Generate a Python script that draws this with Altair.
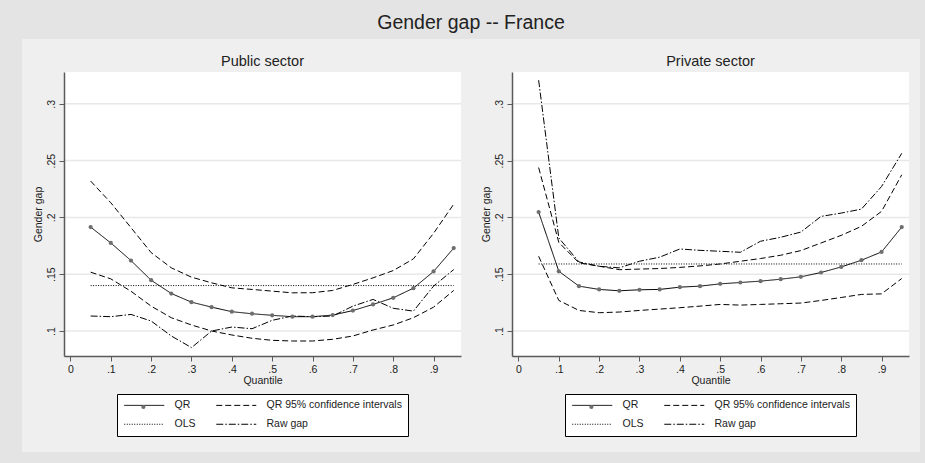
import altair as alt
import pandas as pd

# ---------------- data ----------------
quantiles = [0.05, 0.10, 0.15, 0.20, 0.25, 0.30, 0.35, 0.40, 0.45, 0.50,
             0.55, 0.60, 0.65, 0.70, 0.75, 0.80, 0.85, 0.90, 0.95]

pub_qr = [0.1915, 0.1775, 0.1620, 0.1447, 0.1330, 0.1254, 0.1210, 0.1170, 0.1152, 0.1138,
          0.1126, 0.1126, 0.1140, 0.1180, 0.1234, 0.1292, 0.1377, 0.1524, 0.1730]
pub_ci_hi = [0.2320, 0.2129, 0.1910, 0.1690, 0.1556, 0.1474, 0.1424, 0.1380, 0.1366, 0.1351,
             0.1336, 0.1337, 0.1357, 0.1410, 0.1468, 0.1532, 0.1635, 0.1860, 0.2117]
pub_ci_lo = [0.1518, 0.1459, 0.1350, 0.1219, 0.1117, 0.1053, 0.1000, 0.0965, 0.0936, 0.0918,
             0.0912, 0.0912, 0.0927, 0.0956, 0.1009, 0.1053, 0.1117, 0.1210, 0.1357]
pub_raw = [0.1132, 0.1126, 0.1146, 0.1088, 0.0956, 0.0854, 0.1000, 0.1035, 0.1020, 0.1094,
           0.1132, 0.1126, 0.1132, 0.1219, 0.1278, 0.1200, 0.1175, 0.1395, 0.1541]
pub_ols = 0.1400

priv_qr = [0.2047, 0.1526, 0.1395, 0.1366, 0.1354, 0.1363, 0.1366, 0.1386, 0.1395, 0.1415,
           0.1427, 0.1439, 0.1456, 0.1477, 0.1515, 0.1564, 0.1623, 0.1696, 0.1915]
priv_ci_hi = [0.2439, 0.1780, 0.1600, 0.1570, 0.1540, 0.1545, 0.1550, 0.1560, 0.1573, 0.1590,
              0.1614, 0.1638, 0.1667, 0.1708, 0.1775, 0.1842, 0.1921, 0.2053, 0.2375]
priv_ci_lo = [0.1658, 0.1269, 0.1181, 0.1161, 0.1167, 0.1181, 0.1193, 0.1205, 0.1219, 0.1234,
              0.1228, 0.1234, 0.1240, 0.1246, 0.1269, 0.1295, 0.1322, 0.1327, 0.1462]
priv_raw = [0.3208, 0.1819, 0.1608, 0.1570, 0.1556, 0.1614, 0.1650, 0.1722, 0.1710, 0.1702,
            0.1693, 0.1790, 0.1825, 0.1871, 0.2009, 0.2038, 0.2073, 0.2272, 0.2564]
priv_ols = 0.1590

x_ticks = [0, 0.1, 0.2, 0.3, 0.4, 0.5, 0.6, 0.7, 0.8, 0.9]
y_ticks = [0.1, 0.15, 0.2, 0.25, 0.3]

# legend fills column by column: col 1 = QR, OLS ; col 2 = CI, Raw gap
series_names = ["QR", "OLS", "QR 95% confidence intervals", "Raw gap"]
dash_styles = [[1, 0], [1, 1.5], [6, 3], [7, 2, 1.5, 2]]

main_title = "Gender gap -- France"
panel_titles = ["Public sector", "Private sector"]
x_title = "Quantile"
y_title = "Gender gap"

# ---------------- styling ----------------
FONT = "Liberation Sans"
OUTER_BG = "#e4e4e4"
INNER_BG = "#efefef"
GRID = "#e8e8e8"
AXIS_COL = "#5a5a5a"
TEXT_COL = "#222222"

W, H = 397, 284
X_DOM = [-0.016, 0.968]
Y_DOM = [0.078, 0.328]
LINE_SYMBOL = "M-1,0H9"   # 40 px long stroke at symbolSize 64


def make_axis(title, values, vertical):
    kw = dict(values=values, labelExpr="replace(toString(datum.value), '0.', '.')",
              title=title, grid=False, tickSize=5, tickColor=AXIS_COL, tickWidth=1,
              domainColor=AXIS_COL, domainWidth=1.5, labelColor=TEXT_COL,
              labelFont=FONT, labelFontSize=10.5,
              titleFont=FONT, titleFontSize=10.5, titleFontWeight="normal",
              titleColor=TEXT_COL, zindex=1)
    if vertical:
        kw.update(labelAngle=270, labelAlign="center", labelBaseline="bottom",
                  labelPadding=2.5, titlePadding=3.5)
    else:
        kw.update(labelPadding=3, titlePadding=1)
    return alt.Axis(**kw)


def panel(title, qr, hi, lo, raw, ols, bg_left, bg_right):
    rows = []
    for q, v in zip(quantiles, qr):
        rows.append({"q": q, "value": v, "series": "QR", "line": "qr"})
    for q, v in zip(quantiles, hi):
        rows.append({"q": q, "value": v, "series": "QR 95% confidence intervals", "line": "hi"})
    for q, v in zip(quantiles, lo):
        rows.append({"q": q, "value": v, "series": "QR 95% confidence intervals", "line": "lo"})
    for q in (quantiles[0], quantiles[-1]):
        rows.append({"q": q, "value": ols, "series": "OLS", "line": "ols"})
    for q, v in zip(quantiles, raw):
        rows.append({"q": q, "value": v, "series": "Raw gap", "line": "raw"})
    df = pd.DataFrame(rows)
    pts = pd.DataFrame({"q": quantiles, "value": qr, "pt": ["QR"] * len(qr)})

    xscale = alt.Scale(domain=X_DOM, nice=False, zero=False)
    yscale = alt.Scale(domain=Y_DOM, nice=False, zero=False)
    xaxis = make_axis(x_title, x_ticks, False)
    yaxis = make_axis(y_title, y_ticks, True)

    one = alt.Data(values=[{"a": 1}])
    bg = alt.Chart(one).mark_rect(color=INNER_BG).encode(
        x=alt.value(bg_left), x2=alt.value(bg_right), y=alt.value(-33), y2=alt.value(380))
    plotbg = alt.Chart(one).mark_rect(color="white").encode(
        x=alt.value(0), x2=alt.value(W), y=alt.value(0), y2=alt.value(H))
    grid = alt.Chart(pd.DataFrame({"value": y_ticks})).mark_rule(
        color=GRID, strokeWidth=1.5).encode(
        y=alt.Y("value:Q", scale=yscale, axis=yaxis))

    lines = alt.Chart(df).mark_line(color="black", strokeWidth=1).encode(
        x=alt.X("q:Q", scale=xscale, axis=xaxis),
        y=alt.Y("value:Q", scale=yscale, axis=yaxis),
        strokeDash=alt.StrokeDash(
            "series:N",
            scale=alt.Scale(domain=series_names, range=dash_styles),
            legend=alt.Legend(title=None, orient="none", legendX=53, legendY=322,
                              columns=2, symbolType=LINE_SYMBOL, symbolSize=64,
                              symbolStrokeColor="black", symbolStrokeWidth=1,
                              symbolFillColor="transparent",
                              labelFont=FONT, labelFontSize=10.5, labelColor=TEXT_COL,
                              labelOffset=41, columnPadding=18, rowPadding=8,
                              padding=6, fillColor="white", strokeColor="black",
                              labelLimit=300)),
        detail="line:N",
    )
    dots = alt.Chart(pts).mark_circle(size=18, opacity=1).encode(
        x=alt.X("q:Q", scale=xscale, axis=xaxis),
        y=alt.Y("value:Q", scale=yscale, axis=yaxis),
        fill=alt.Fill("pt:N", scale=alt.Scale(domain=["QR"], range=["#6e6e6e"]),
                      legend=alt.Legend(title=None, orient="none", legendX=76.9, legendY=332.5,
                                        symbolType="circle", symbolSize=18, padding=0,
                                        labelOpacity=0, labelFontSize=4, symbolOpacity=1,
                                        symbolStrokeWidth=0)),
    )
    return alt.layer(bg, plotbg, grid, lines, dots).properties(
        width=W, height=H,
        title=alt.TitleParams(title, font=FONT, fontSize=14.5, fontWeight="normal",
                              color=TEXT_COL, anchor="middle", frame="group", offset=-30),
    )


left = panel(panel_titles[0], pub_qr, pub_ci_hi, pub_ci_lo, pub_raw, pub_ols, -42, 414)
right = panel(panel_titles[1], priv_qr, priv_ci_hi, priv_ci_lo, priv_raw, priv_ols, -36, 408)

chart = alt.hconcat(left, right, spacing=-2).resolve_scale(
    strokeDash="independent", fill="independent"
).resolve_legend(
    strokeDash="independent", fill="independent"
).properties(
    title=alt.TitleParams(main_title, font=FONT, fontSize=19.5, fontWeight="normal",
                          color=TEXT_COL, anchor="middle", offset=6),
    background=OUTER_BG,
    padding={"left": 22, "right": 5, "top": 12, "bottom": 12},
).configure_view(stroke=None, fill=None)

chart.save("out.html", embed_options={"renderer": "svg", "actions": False})
